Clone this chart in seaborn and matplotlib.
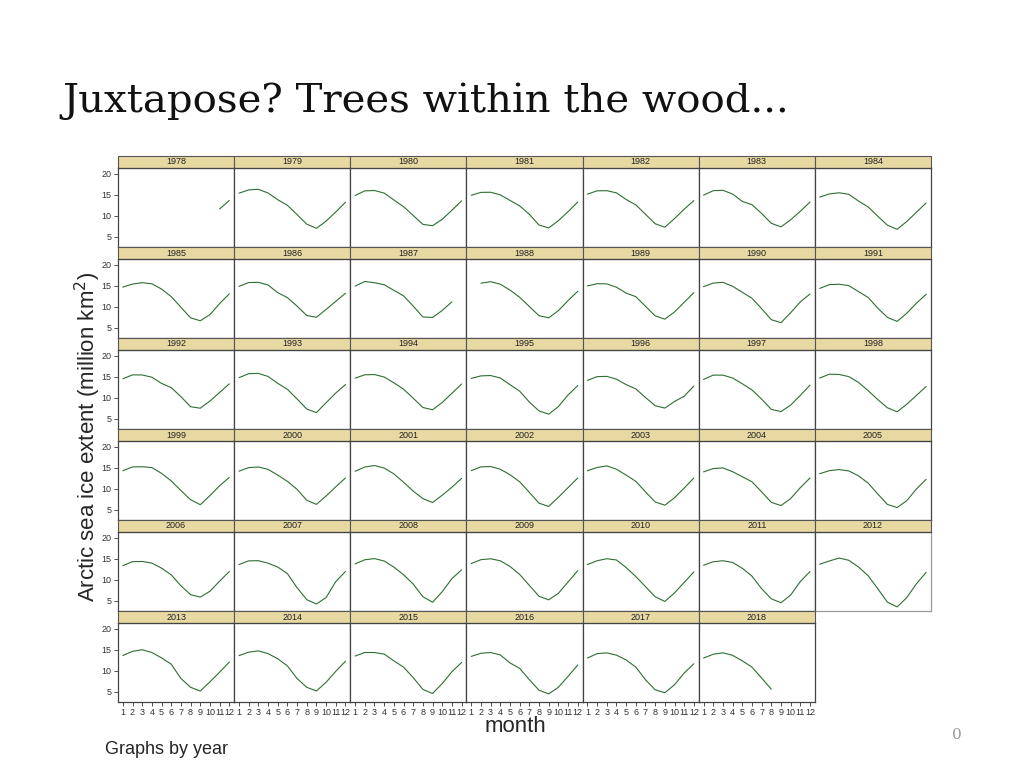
import matplotlib
matplotlib.use("Agg")
import matplotlib.pyplot as plt
from matplotlib.patches import Rectangle
import seaborn as sns
import pandas as pd
import numpy as np

# monthly Arctic sea ice extent, million km2 (None = no data)
months = list(range(1, 13))
years = list(range(1978, 2019))

ext_1978 = [None, None, None, None, None, None, None, None, None, None, 11.65, 13.67]
ext_1979 = [15.41, 16.18, 16.34, 15.45, 13.86, 12.53, 10.31, 8.04, 7.05, 8.75, 10.94, 13.24]
ext_1980 = [14.86, 15.96, 16.04, 15.43, 13.79, 12.20, 10.11, 7.98, 7.67, 9.18, 11.35, 13.59]
ext_1981 = [14.91, 15.60, 15.63, 15.01, 13.69, 12.38, 10.39, 7.83, 7.14, 8.86, 11.01, 13.29]
ext_1982 = [15.18, 15.97, 16.00, 15.49, 13.91, 12.62, 10.40, 8.13, 7.30, 9.37, 11.60, 13.65]
ext_1983 = [14.94, 16.00, 16.09, 15.21, 13.45, 12.67, 10.58, 8.24, 7.39, 9.07, 11.10, 13.31]
ext_1984 = [14.47, 15.23, 15.50, 15.14, 13.56, 12.14, 9.92, 7.79, 6.81, 8.67, 10.88, 13.10]
ext_1985 = [14.72, 15.44, 15.77, 15.50, 14.25, 12.44, 9.92, 7.40, 6.70, 8.17, 10.80, 13.10]
ext_1986 = [14.89, 15.79, 15.85, 15.22, 13.39, 12.22, 10.19, 7.95, 7.54, 9.39, 11.33, 13.24]
ext_1987 = [14.95, 16.05, 15.75, 15.28, 13.95, 12.64, 10.20, 7.61, 7.48, 9.16, 11.20, None]
ext_1988 = [None, 15.64, 16.00, 15.40, 14.00, 12.30, 10.10, 7.90, 7.40, 9.10, 11.50, 13.70]
ext_1989 = [14.99, 15.52, 15.48, 14.69, 13.28, 12.44, 10.15, 7.86, 7.08, 8.80, 11.10, 13.40]
ext_1990 = [14.82, 15.67, 15.85, 14.90, 13.49, 12.06, 9.57, 6.96, 6.24, 8.61, 11.20, 13.07]
ext_1991 = [14.40, 15.30, 15.40, 15.06, 13.66, 12.26, 9.70, 7.50, 6.55, 8.50, 10.90, 13.00]
ext_1992 = [14.55, 15.48, 15.46, 14.92, 13.45, 12.45, 10.30, 7.90, 7.55, 9.25, 11.30, 13.35]
ext_1993 = [14.82, 15.76, 15.84, 15.11, 13.47, 12.05, 9.76, 7.34, 6.50, 8.85, 11.16, 13.18]
ext_1994 = [14.70, 15.51, 15.55, 14.98, 13.60, 12.08, 9.93, 7.72, 7.18, 8.90, 11.10, 13.30]
ext_1995 = [14.64, 15.24, 15.32, 14.74, 13.16, 11.60, 9.02, 6.90, 6.13, 7.93, 10.70, 12.93]
ext_1996 = [14.18, 15.06, 15.12, 14.45, 13.17, 12.14, 10.10, 8.14, 7.58, 9.15, 10.40, 12.84]
ext_1997 = [14.40, 15.42, 15.42, 14.74, 13.37, 11.90, 9.70, 7.28, 6.74, 8.30, 10.60, 13.05]
ext_1998 = [14.73, 15.64, 15.58, 15.07, 13.70, 11.75, 9.60, 7.65, 6.69, 8.50, 10.60, 12.72]
ext_1999 = [14.34, 15.23, 15.27, 15.08, 13.70, 11.90, 9.60, 7.43, 6.24, 8.40, 10.75, 12.75]
ext_2000 = [14.22, 15.07, 15.22, 14.65, 13.29, 11.80, 9.90, 7.30, 6.32, 8.30, 10.50, 12.60]
ext_2001 = [14.20, 15.21, 15.57, 14.97, 13.58, 11.60, 9.47, 7.70, 6.75, 8.50, 10.40, 12.50]
ext_2002 = [14.35, 15.24, 15.32, 14.68, 13.37, 11.70, 9.17, 6.60, 5.83, 8.00, 10.30, 12.60]
ext_2003 = [14.32, 15.10, 15.48, 14.69, 13.29, 11.80, 9.30, 6.90, 6.12, 7.90, 10.20, 12.60]
ext_2004 = [14.05, 14.84, 14.99, 14.10, 12.90, 11.70, 9.30, 6.80, 6.04, 7.70, 10.30, 12.60]
ext_2005 = [13.62, 14.34, 14.60, 14.28, 13.12, 11.40, 8.80, 6.30, 5.56, 7.20, 10.00, 12.30]
ext_2006 = [13.38, 14.34, 14.39, 14.00, 12.80, 11.20, 8.60, 6.50, 5.89, 7.30, 9.70, 12.00]
ext_2007 = [13.66, 14.53, 14.57, 13.98, 13.07, 11.50, 8.15, 5.30, 4.27, 5.80, 9.60, 12.00]
ext_2008 = [13.82, 14.79, 15.07, 14.50, 13.05, 11.25, 9.00, 6.00, 4.69, 7.20, 10.30, 12.40]
ext_2009 = [13.90, 14.81, 15.03, 14.55, 13.20, 11.30, 8.70, 6.10, 5.26, 6.80, 9.50, 12.20]
ext_2010 = [13.65, 14.56, 15.04, 14.74, 12.95, 10.80, 8.40, 6.00, 4.87, 6.90, 9.40, 11.90]
ext_2011 = [13.50, 14.32, 14.56, 14.16, 12.78, 10.90, 7.90, 5.50, 4.56, 6.40, 9.60, 12.00]
ext_2012 = [13.73, 14.50, 15.20, 14.67, 13.10, 11.00, 7.90, 4.70, 3.57, 5.80, 9.10, 11.80]
ext_2013 = [13.66, 14.66, 15.04, 14.38, 13.10, 11.60, 8.20, 6.10, 5.21, 7.40, 9.70, 12.10]
ext_2014 = [13.63, 14.46, 14.76, 14.12, 12.90, 11.20, 8.20, 6.10, 5.22, 7.30, 9.90, 12.30]
ext_2015 = [13.54, 14.38, 14.37, 14.00, 12.40, 10.90, 8.40, 5.60, 4.62, 7.00, 9.80, 12.00]
ext_2016 = [13.45, 14.20, 14.38, 13.80, 11.90, 10.60, 7.90, 5.40, 4.53, 6.10, 8.70, 11.40]
ext_2017 = [13.07, 14.11, 14.29, 13.76, 12.60, 10.90, 7.90, 5.50, 4.80, 6.70, 9.50, 11.70]
ext_2018 = [13.06, 13.96, 14.30, 13.71, 12.40, 10.90, 8.30, 5.65, None, None, None, None]

series = [ext_1978, ext_1979, ext_1980, ext_1981, ext_1982, ext_1983, ext_1984,
          ext_1985, ext_1986, ext_1987, ext_1988, ext_1989, ext_1990, ext_1991,
          ext_1992, ext_1993, ext_1994, ext_1995, ext_1996, ext_1997, ext_1998,
          ext_1999, ext_2000, ext_2001, ext_2002, ext_2003, ext_2004, ext_2005,
          ext_2006, ext_2007, ext_2008, ext_2009, ext_2010, ext_2011, ext_2012,
          ext_2013, ext_2014, ext_2015, ext_2016, ext_2017, ext_2018]

rows = []
for yr, vals in zip(years, series):
    for m, v in zip(months, vals):
        rows.append({"year": yr, "month": m, "extent": v})
df = pd.DataFrame(rows).dropna()

sns.set_style("white")
plt.rcParams["font.family"] = ["Liberation Sans", "DejaVu Sans"]

W, H = 1024, 768
g = sns.relplot(data=df, x="month", y="extent", col="year", col_order=years,
                col_wrap=7, kind="line", color="#2e6e32", linewidth=0.8,
                height=1.2, aspect=1)
fig = g.figure
fig.set_size_inches(W / 100, H / 100)
fig.subplots_adjust(left=118 / W, right=931 / W, top=1 - 168 / H,
                    bottom=1 - 702 / H, wspace=0, hspace=12 / 79)
g.set_titles("")
g.set_axis_labels("", "")

strip_h = 12 / 79
for i, (ax, yr) in enumerate(zip(g.axes.flat, years)):
    ax.set_xlim(0.5, 12.5)
    ax.set_ylim(2.6, 21.4)
    ax.set_xticks(months)
    ax.set_yticks([5, 10, 15, 20])
    for s in ax.spines.values():
        s.set_visible(True)
        s.set_color("#444444")
        s.set_linewidth(0.9)
    is_left = i % 7 == 0
    is_bottom = i >= 35
    ax.tick_params(axis="y", left=is_left, labelleft=is_left, length=3,
                   width=0.6, labelsize=6.5, pad=1.5, colors="#333333")
    ax.tick_params(axis="x", bottom=is_bottom, labelbottom=is_bottom,
                   length=3, width=0.6, labelsize=6.5, pad=1.5, colors="#333333")
    if yr == 2012:
        ax.spines["right"].set_color("#999999")
        ax.spines["bottom"].set_color("#999999")
    ax.add_patch(Rectangle((0, 1), 1, strip_h, transform=ax.transAxes,
                           clip_on=False, facecolor="#e8d9a3",
                           edgecolor="#555555", linewidth=0.8))
    ax.text(0.5, 1 + strip_h / 2, str(yr), transform=ax.transAxes,
            ha="center", va="center", fontsize=6.5, color="#222222")

fig.text(62 / W, 1 - 112 / H, "Juxtapose? Trees within the wood...",
         family="DejaVu Serif", fontsize=29, color="#111111", va="baseline")
fig.text(88 / W, 1 - 437 / H, r"Arctic sea ice extent (million km$^{2}$)",
         rotation=90, ha="center", va="center", fontsize=16)
fig.text(515 / W, 1 - 726 / H, "month", ha="center", va="center", fontsize=16)
fig.text(105 / W, 1 - 750 / H, "Graphs by year", ha="left", va="center",
         fontsize=13)
fig.text(957 / W, 1 - 735 / H, "0", ha="center", va="center", fontsize=11,
         color="#999999", family="DejaVu Serif")

fig.savefig("out.png", dpi=100, facecolor="white")
